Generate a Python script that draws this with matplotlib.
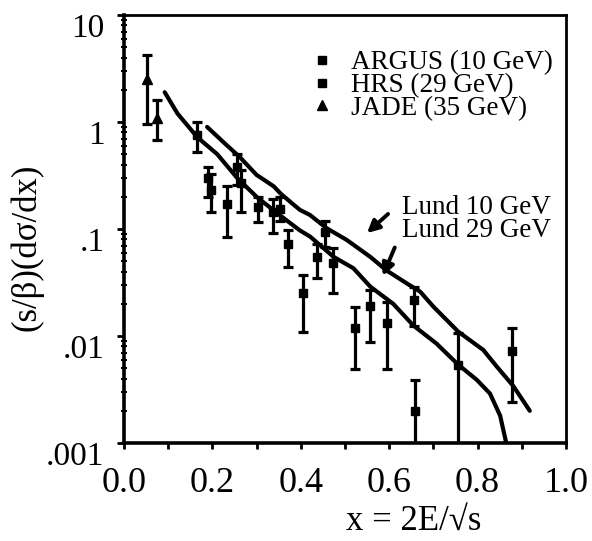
# -*- coding: utf-8 -*-
# 画 s/β dσ/dx 分布图 (ARGUS / HRS / JADE + Lund 曲线)
import numpy as np
import matplotlib
matplotlib.use('Agg')
import matplotlib.pyplot as plt
import matplotlib.transforms as mtransforms
from matplotlib.lines import Line2D

plt.rcParams['font.family'] = ['Liberation Serif', 'DejaVu Serif']

# JADE 数据 (x, y, 误差下限, 误差上限)
jade_x = [0.053, 0.075]
jade_y = [2.5, 1.1]
jade_lo = [0.95, 0.68]
jade_hi = [4.2, 1.6]

# ARGUS 数据
argus_x = [0.166, 0.190, 0.256, 0.304, 0.337, 0.371, 0.437, 0.472, 0.557, 0.655, 0.756]
argus_y = [0.76, 0.30, 0.38, 0.16, 0.145, 0.072, 0.055, 0.048, 0.019, 0.0215, 0.0054]
argus_lo = [0.53, 0.20, 0.26, 0.116, 0.091, 0.044, 0.035, 0.025, 0.0087, 0.0123, 0.0009]
argus_hi = [1.0, 0.38, 0.50, 0.20, 0.19, 0.098, 0.073, 0.066, 0.027, 0.0285, 0.0106]

# HRS 数据
hrs_x = [0.196, 0.232, 0.264, 0.353, 0.406, 0.455, 0.523, 0.594, 0.659, 0.877]
hrs_y = [0.23, 0.17, 0.27, 0.155, 0.025, 0.094, 0.0118, 0.0133, 0.0020, 0.0073]
hrs_lo = [0.145, 0.085, 0.145, 0.12, 0.011, 0.068, 0.0049, 0.0049, 0.0009, 0.0024]
hrs_hi = [0.33, 0.25, 0.36, 0.20, 0.037, 0.118, 0.0186, 0.021, 0.0039, 0.012]

# Lund 曲线
lund_a_x = [0.188, 0.23, 0.262, 0.30, 0.323, 0.339, 0.354, 0.38, 0.398, 0.421, 0.458,
            0.504, 0.557, 0.594, 0.640, 0.670, 0.700, 0.756, 0.813, 0.843, 0.881, 0.918]
lund_a_y = [0.90, 0.62, 0.47, 0.32, 0.277, 0.25, 0.215, 0.174, 0.151, 0.135, 0.102,
            0.079, 0.055, 0.041, 0.031, 0.026, 0.0188, 0.011, 0.0074, 0.0052, 0.0034, 0.0020]
lund_b_x = [0.092, 0.121, 0.166, 0.211, 0.256, 0.30, 0.347, 0.398, 0.421, 0.474, 0.519,
            0.557, 0.609, 0.655, 0.707, 0.756, 0.798, 0.828, 0.851, 0.866]
lund_b_y = [1.9, 1.2, 0.72, 0.50, 0.30, 0.20, 0.14, 0.097, 0.085, 0.055, 0.043,
            0.029, 0.020, 0.0125, 0.0085, 0.0054, 0.0039, 0.0029, 0.0018, 0.00095]

xticks = [0.0, 0.2, 0.4, 0.6, 0.8, 1.0]
xticklabels = ['0.0', '0.2', '0.4', '0.6', '0.8', '1.0']
yticks = [10, 1, 0.1, 0.01, 0.001]
yticklabels = ['10', '1', '.1', '.01', '.001']

fig = plt.figure(figsize=(5.92, 5.41), dpi=100)
ax = fig.add_axes([0.2095, 0.1811, 0.7466, 0.7911])
ax.set_yscale('log')
ax.set_xlim(0, 1.0)
ax.set_ylim(0.001, 10)

# 曲线
ax.plot(lund_a_x, lund_a_y, color='black', lw=3.0, solid_capstyle='round', solid_joinstyle='round')
ax.plot(lund_b_x, lund_b_y, color='black', lw=3.0, solid_capstyle='round', solid_joinstyle='round')


def draw_pts(x, y, lo, hi, marker, ms):
    x = np.array(x)
    y = np.array(y)
    err = [y - np.array(lo), np.array(hi) - y]
    ax.errorbar(x, y, yerr=err, fmt=marker, color='black', ms=ms, elinewidth=2.3,
                capsize=3.8, capthick=2.3)


draw_pts(jade_x, jade_y, jade_lo, jade_hi, '^', 7)
draw_pts(argus_x, argus_y, argus_lo, argus_hi, 's', 6)
draw_pts(hrs_x, hrs_y, hrs_lo, hrs_hi, 's', 5.5)

# 图例
handles = [Line2D([], [], ls='none', marker='s', color='black', ms=6),
           Line2D([], [], ls='none', marker='s', color='black', ms=6),
           Line2D([], [], ls='none', marker='^', color='black', ms=7)]
labels = ['ARGUS (10 GeV)', 'HRS (29 GeV)', 'JADE (35 GeV)']
ax.legend(handles, labels, loc='upper left', bbox_to_anchor=(0.424, 0.918),
          frameon=False, fontsize=19.5, handlelength=0.8, handletextpad=0.66,
          borderpad=0, borderaxespad=0, labelspacing=-0.08)

# Lund 标注
ax.text(0.628, 0.158, 'Lund 10 GeV', fontsize=19.5, va='center', ha='left')
ax.text(0.628, 0.096, 'Lund 29 GeV', fontsize=19.5, va='center', ha='left')
ax.annotate('', xy=(0.545, 0.088), xytext=(0.602, 0.144),
            arrowprops=dict(arrowstyle='-|>', color='black', lw=2.8, mutation_scale=18))
ax.annotate('', xy=(0.583, 0.0346), xytext=(0.615, 0.071),
            arrowprops=dict(arrowstyle='-|>', color='black', lw=2.8, mutation_scale=18))

# 坐标轴
ax.set_xticks(xticks)
ax.set_xticklabels(xticklabels, fontsize=26)
ax.set_xticks(np.arange(0.1, 1.0, 0.2), minor=True)
ax.set_yticks(yticks)
ax.set_yticklabels(yticklabels, fontsize=24)
ax.tick_params(axis='x', which='both', direction='out', length=4, width=2, pad=13)
ax.tick_params(axis='y', which='major', direction='out', length=5, width=2, pad=9)
ax.tick_params(axis='y', which='minor', direction='inout', length=4, width=1.5)
ax.yaxis.set_minor_formatter(matplotlib.ticker.NullFormatter())
for lab in ax.get_yticklabels():
    lab.set_transform(lab.get_transform() + mtransforms.ScaledTranslation(0, -0.1, fig.dpi_scale_trans))
for s in ['left', 'bottom']:
    ax.spines[s].set_linewidth(2.6)
for s in ['top', 'right']:
    ax.spines[s].set_linewidth(2.0)

fig.text(0.698, 0.037, 'x = 2E/√s', fontsize=25, ha='center', va='center')
fig.text(0.0456, 0.543, '(s/β)(dσ/dx)', fontsize=25, ha='center', va='center', rotation=90)

plt.savefig('out.png', dpi=100)
